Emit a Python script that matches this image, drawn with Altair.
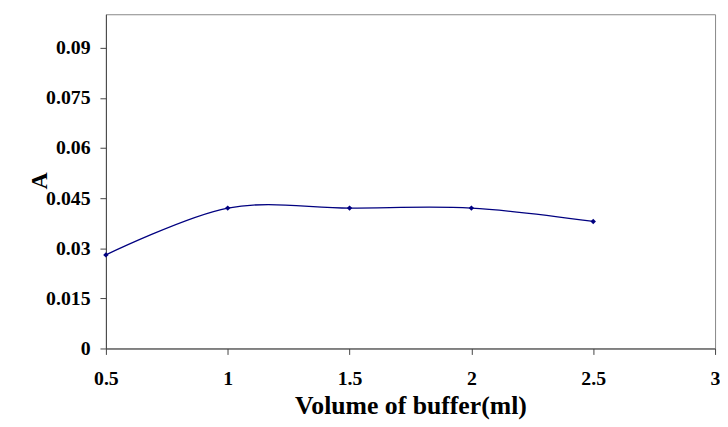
import altair as alt
import pandas as pd

volume = [0.5, 1.0, 1.5, 2.0, 2.5]
absorbance = [0.028, 0.042, 0.042, 0.042, 0.038]
x_ticks = [0.5, 1, 1.5, 2, 2.5, 3]
y_ticks = [0, 0.015, 0.03, 0.045, 0.06, 0.075, 0.09]

df = pd.DataFrame({"volume": volume, "A": absorbance})

FONT = "Liberation Serif"

x = alt.X("volume:Q", scale=alt.Scale(domain=[0.5, 3], nice=False, zero=False),
          axis=alt.Axis(values=x_ticks, format=".1~f", title="Volume of buffer(ml)", grid=False,
                        labelFont=FONT, labelFontWeight="bold", labelFontSize=20,
                        titleFont=FONT, titleFontWeight="bold", titleFontSize=26,
                        labelPadding=14, titlePadding=5, tickSize=6,
                        domainColor="#444", tickColor="#444", labelColor="black",
                        titleColor="black", labelFlush=False))
y = alt.Y("A:Q", scale=alt.Scale(domain=[0, 0.1], nice=False),
          axis=alt.Axis(values=y_ticks, format=".3~f", title="A", grid=False,
                        labelFont=FONT, labelFontWeight="bold", labelFontSize=20,
                        titleFont=FONT, titleFontWeight="bold", titleFontSize=24,
                        labelPadding=10, tickSize=6,
                        titleX=-67, titleY=168, titleAngle=-90, titleBaseline="middle",
                        titleAlign="center",
                        domainColor="#444", tickColor="#444", labelColor="black",
                        titleColor="black", labelFlush=False))

line = alt.Chart(df).mark_line(color="#000080", strokeWidth=1.3, interpolate="cardinal").encode(x=x, y=y)
pts = alt.Chart(df).mark_point(shape="diamond", filled=True, color="#000080", size=30, opacity=1).encode(x=x, y=y)

chart = (line + pts).properties(
    width=616, height=338,
    autosize=alt.AutoSizeParams(type="none"),
    padding={"left": 99, "top": 4, "right": 5, "bottom": 70},
).configure_view(stroke="#888", strokeWidth=1)

chart.save("out.html", embed_options={"renderer": "svg", "actions": False})
